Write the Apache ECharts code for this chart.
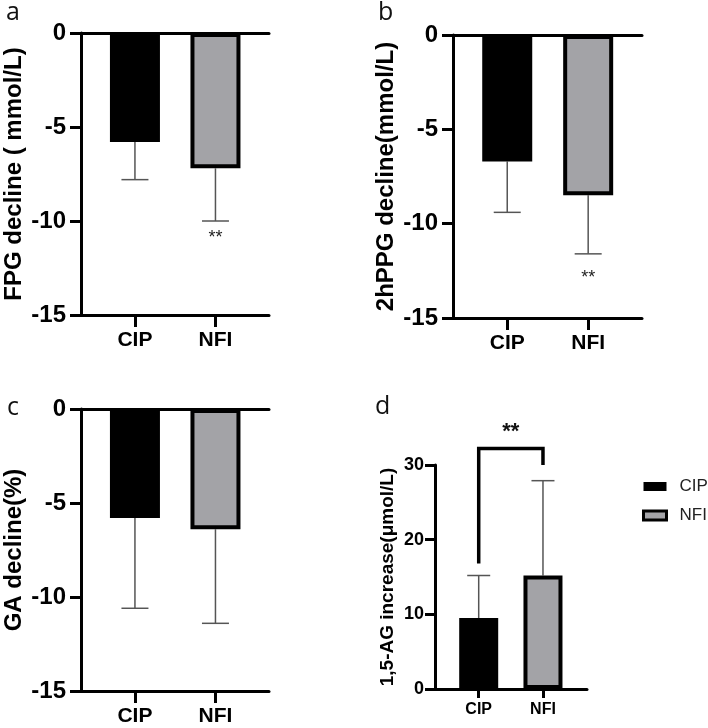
<!DOCTYPE html>
<html>
<head>
	<meta charset="utf-8">
	<title>CIP vs NFI</title>
	<script src="https://cdn.jsdelivr.net/npm/echarts@6/dist/echarts.min.js"></script>
	<style>
		html, body { margin: 0; padding: 0; background: #fff; }
		#main { width: 708px; height: 728px; }
	</style>
</head>
<body>
<div id="main"></div>
<script>
	// data
	var categories = ['CIP', 'NFI'];
	var fpgMean = [-5.8, -7.2], fpgSd = [2.0, 2.8];
	var ppgMean = [-6.7, -8.5], ppgSd = [2.7, 3.1];
	var gaMean = [-5.8, -6.4], gaSd = [4.8, 5.0];
	var agMean = [9.5, 15.2], agSd = [5.7, 12.7];
	var declineTicks = [-15, 0, 5];   // min, max, interval
	var agTicks = [0, 30, 10];
	// significance marks
	var fpgStarY = -10.9;
	var ppgStarY = -12.9;
	var agBracketY = [16.8, 32.2, 30.0]; // left leg end, top, right leg end
	var agStarY = 34.4;

	var FONT = '"Liberation Sans", Arial, sans-serif';
	var GRAY = '#a3a3a7';

	var panels = [
		{ letter: 'a', grid: { left: 81, top: 33, width: 188, height: 282 }, mean: fpgMean, sd: fpgSd, ticks: declineTicks,
			name: 'FPG decline ( mmol/L)', star: fpgStarY, big: true, titlePos: [6, 0] },
		{ letter: 'b', grid: { left: 453, top: 35, width: 189, height: 283 }, mean: ppgMean, sd: ppgSd, ticks: declineTicks,
			name: '2hPPG decline(mmol/L)', star: ppgStarY, big: true, titlePos: [378, 0] },
		{ letter: 'c', grid: { left: 81, top: 409, width: 188, height: 282 }, mean: gaMean, sd: gaSd, ticks: declineTicks,
			name: 'GA decline(%)', star: null, big: true, titlePos: [7, 395] },
		{ letter: 'd', grid: { left: 435, top: 465, width: 152, height: 224 }, mean: agMean, sd: agSd, ticks: agTicks,
			name: '1,5-AG increase(\u03bcmol/L)', star: null, big: false, titlePos: [375, 394] }
	];

	var grids = [], xAxes = [], yAxes = [], series = [], titles = [];

	panels.forEach(function (p, g) {
		var big = p.big;
		var bw = big ? 50 : 39;
		var cap = big ? 27 : 23;
		grids.push(p.grid);
		titles.push({
			text: p.letter, left: p.titlePos[0], top: p.titlePos[1], padding: 0,
			textStyle: { fontFamily: '"Open Sans", sans-serif', fontSize: 25, fontWeight: 'normal', color: '#111' }
		});
		var xRange = big ? [-0.67, 1.665] : [-0.68, 1.685];
		xAxes.push({
			type: 'value', gridIndex: g, position: 'bottom', min: xRange[0], max: xRange[1],
			axisLine: { onZero: false, lineStyle: { color: '#000', width: 3 } },
			axisTick: { customValues: [0, 1], length: big ? 12 : 9, lineStyle: { color: '#000', width: 3 } },
			axisLabel: {
				customValues: [0, 1], margin: big ? 15 : 13,
				formatter: function (v) { return categories[Math.round(v)]; },
				fontFamily: FONT, fontWeight: 'bold', fontSize: big ? 21 : 16, color: '#000'
			},
			splitLine: { show: false }
		});
		xAxes.push({
			type: 'value', gridIndex: g, position: 'top', min: xRange[0], max: xRange[1], show: big,
			axisLine: { onZero: false, lineStyle: { color: '#000', width: 3 } },
			axisTick: { show: false }, axisLabel: { show: false }, splitLine: { show: false }
		});
		yAxes.push({
			type: 'value', gridIndex: g, min: p.ticks[0], max: p.ticks[1], interval: p.ticks[2],
			name: p.name, nameLocation: 'middle', nameGap: big ? 55 : 38,
			nameTextStyle: { fontFamily: FONT, fontWeight: 'bold', fontSize: big ? 24 : 19, color: '#000' },
			axisLine: { show: true, onZero: false, lineStyle: { color: '#000', width: 3 } },
			axisTick: { show: true, length: big ? 11 : 10, lineStyle: { color: '#000', width: 3 } },
			axisLabel: { margin: big ? 15 : 11, fontFamily: FONT, fontWeight: 'bold', fontSize: big ? 24 : 18, color: '#000' },
			splitLine: { show: false }
		});

		// bars: one series per group, overlapped so each sits on its own x
		categories.forEach(function (c, i) {
			series.push({
				name: c, type: 'bar', xAxisIndex: g * 2, yAxisIndex: g,
				barWidth: bw, barGap: '-100%', z: 3,
				data: [[i, p.mean[i]]],
				itemStyle: { color: i === 0 ? '#000' : GRAY, borderColor: '#000', borderWidth: i === 0 ? 3 : 4 }
			});
		});

		// one-sided error bars
		series.push({
			type: 'custom', xAxisIndex: g * 2, yAxisIndex: g, z: 2, silent: true,
			data: p.mean.map(function (m, i) { return [i, m, m + Math.sign(m) * p.sd[i]]; }),
			renderItem: function (params, api) {
				var x = api.value(0);
				var a = api.coord([x, api.value(1)]);
				var b = api.coord([x, api.value(2)]);
				var st = { stroke: '#555', lineWidth: 1.5 };
				return {
					type: 'group', children: [
						{ type: 'line', shape: { x1: a[0], y1: a[1], x2: b[0], y2: b[1] }, style: st },
						{ type: 'line', shape: { x1: b[0] - cap / 2, y1: b[1], x2: b[0] + cap / 2, y2: b[1] }, style: st }
					]
				};
			}
		});

		if (p.star !== null) {
			series.push({
				type: 'custom', xAxisIndex: g * 2, yAxisIndex: g, z: 4, silent: true,
				data: [[1, p.star]],
				renderItem: function (params, api) {
					var pt = api.coord([api.value(0), api.value(1)]);
					return {
						type: 'text', x: pt[0], y: pt[1],
						style: { text: '**', fontFamily: FONT, fontSize: 18, fill: '#222', align: 'center', verticalAlign: 'middle' }
					};
				}
			});
		}
	});

	// bracket + ** over panel d
	series.push({
		type: 'custom', xAxisIndex: 6, yAxisIndex: 3, z: 4, silent: true, clip: false,
		data: [[0, 1, agBracketY[0], agBracketY[1], agBracketY[2], agStarY]],
		encode: { x: [0, 1], y: [2, 3, 4, 5] },
		renderItem: function (params, api) {
			var p1 = api.coord([api.value(0), api.value(2)]);
			var p2 = api.coord([api.value(0), api.value(3)]);
			var p3 = api.coord([api.value(1), api.value(3)]);
			var p4 = api.coord([api.value(1), api.value(4)]);
			var s = api.coord([(api.value(0) + api.value(1)) / 2, api.value(5)]);
			return {
				type: 'group', children: [
					{ type: 'polyline', shape: { points: [p1, p2, p3, p4] }, style: { stroke: '#000', lineWidth: 3.5, fill: null } },
					{ type: 'text', x: s[0], y: s[1], style: { text: '**', fontFamily: FONT, fontWeight: 'bold', fontSize: 22, fill: '#111', align: 'center', verticalAlign: 'middle' } }
				]
			};
		}
	});

	var myChart = echarts.init(document.getElementById('main'));
	var option = {
		animation: false,
		title: titles,
		grid: grids,
		xAxis: xAxes,
		yAxis: yAxes,
		legend: {
			orient: 'vertical', left: 637, top: 473, itemWidth: 23, itemHeight: 9, itemGap: 12,
			icon: 'rect', selectedMode: false,
			textStyle: { fontFamily: FONT, fontSize: 17, color: '#222', padding: [0, 0, 0, 8] },
			data: [
				{ name: 'CIP', itemStyle: { borderWidth: 0 } },
				{ name: 'NFI', itemStyle: { borderWidth: 3 } }
			]
		},
		series: series
	};
	option && myChart.setOption(option);
</script>
</body>
</html>
